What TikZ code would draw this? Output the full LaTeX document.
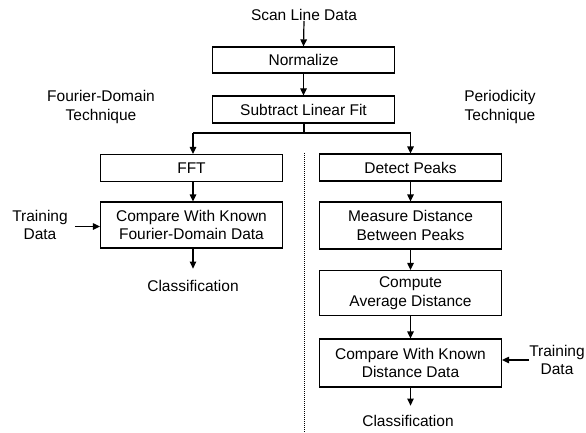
\documentclass[tikz,border=0pt]{standalone}
\usepackage{fontspec}
\setmainfont{Liberation Sans}
\usetikzlibrary{arrows.meta}
\begin{document}
\begin{tikzpicture}[x=1pt,y=-1pt,
  font=\fontsize{15.5}{18.5}\selectfont,
  stepbox/.style={draw,line width=1.2pt,minimum width=182pt,align=center,inner sep=0pt},
  flow/.style={line width=1.2pt,-{Triangle[length=7pt,width=6.5pt]}},
  lbl/.style={align=center,inner sep=0pt}]
\useasboundingbox (0,0) rectangle (586,433);

% trunk
\node[lbl] (scan) at (304,15) {Scan Line Data};
\node[stepbox,minimum height=26pt] (norm) at (303.5,60) {Normalize};
\node[stepbox,minimum height=27pt] (sub) at (303.5,109.5) {Subtract Linear Fit};

% section titles
\node[lbl] (fdt) at (101,107) {Fourier-Domain\\Technique};
\node[lbl] (pt) at (500,107) {Periodicity\\Technique};

% left branch
\node[stepbox,minimum height=27pt] (fft) at (191.5,168) {FFT};
\node[stepbox,minimum height=46pt] (cmpl) at (191.5,225) {Compare With Known\\Fourier-Domain Data};
\node[lbl] (trl) at (40,225) {Training\\Data};
\node[lbl] (clsl) at (193,286) {Classification};

% right branch
\node[stepbox,minimum height=27pt] (peaks) at (410.5,167.5) {Detect Peaks};
\node[stepbox,minimum height=47pt] (meas) at (410.5,225.5) {Measure Distance\\Between Peaks};
\node[stepbox,minimum height=45pt] (avg) at (410.5,293) {Compute\\Average Distance};
\node[stepbox,minimum height=48pt] (cmpr) at (410.5,363) {Compare With Known\\Distance Data};
\node[lbl] (trr) at (557,360) {Training\\Data};
\node[lbl] (clsr) at (408,421) {Classification};

% split point and branch ends
\coordinate (split) at (304,133);
\coordinate (splitl) at (193,133);
\coordinate (splitr) at (410.5,133);

% connectors
\draw[flow] (scan.south -| norm.north) ++(0.5,0) -- (norm.north);
\draw[flow] (norm) -- (sub);
\draw[line width=1.2pt] (sub.south -| split) -- (split);
\draw[line width=1.2pt] (splitl) -- (splitr);
\draw[flow] (splitl) -- (splitl |- fft.north);
\draw[flow] (splitr) -- (peaks.north);
\draw[flow] (fft.south -| splitl) -- (cmpl.north -| splitl);
\draw[flow] (trl.east) ++(7,1.5) -- (cmpl.west |- 0,226.5);
\draw[flow] (cmpl.south -| splitl) -- ++(0,20);
\draw[flow] (peaks) -- (meas);
\draw[flow] (meas) -- (avg);
\draw[flow] (avg) -- (cmpr);
\draw[flow] (trr.west) ++(0,0) -- (cmpr.east |- trr.west);
\draw[flow] (cmpr.south -| clsr.north) ++(2.5,0) -- ++(0,18);

% separator between the two techniques
\draw[line width=1pt,dash pattern=on 1pt off 1pt] (split |- 0,153) -- (split |- 0,433);
\end{tikzpicture}
\end{document}
